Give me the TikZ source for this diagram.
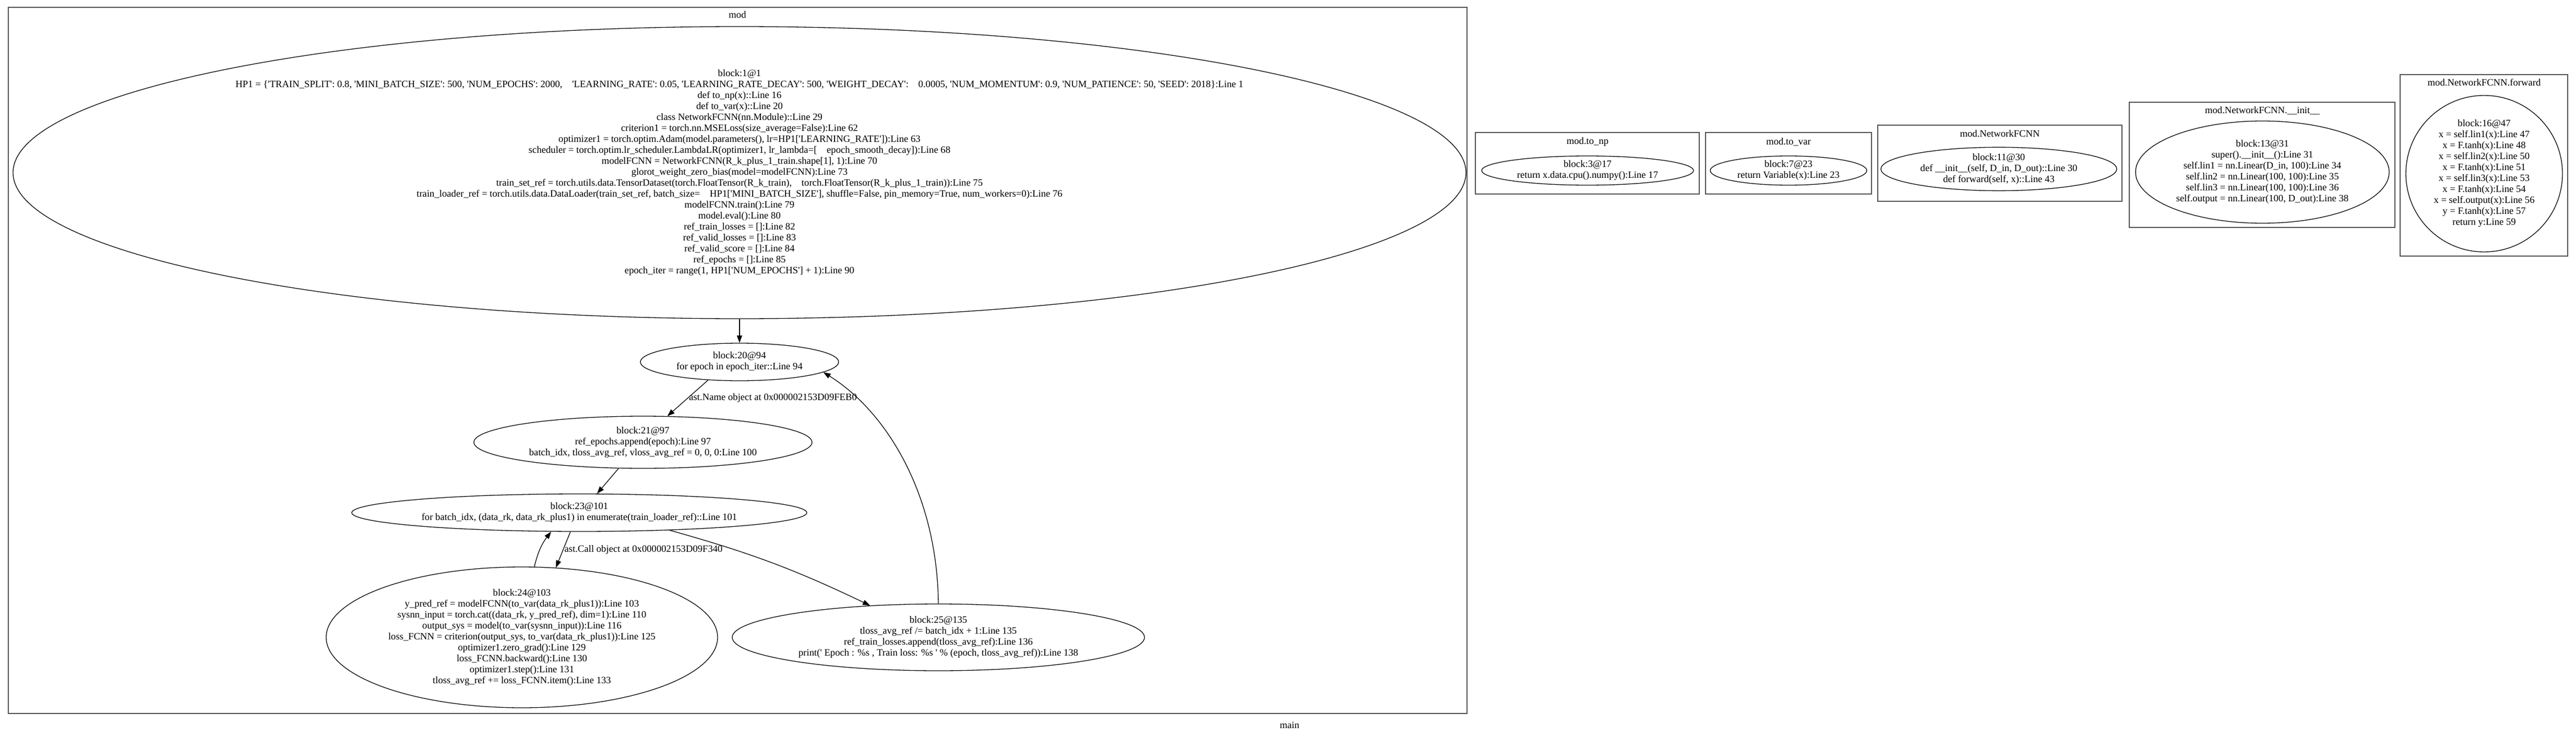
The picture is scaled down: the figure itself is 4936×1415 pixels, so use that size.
\documentclass[tikz,border=0pt]{standalone}
\usepackage{fontspec}
\setmainfont{Liberation Serif}[Ligatures=TeXOff]
\usetikzlibrary{shapes.geometric,arrows.meta}
\definecolor{clusterline}{RGB}{80,80,80}
\newcommand{\gvfont}{\fontsize{18.67}{21}\selectfont}
\tikzset{
	block/.style={ellipse, draw, line width=1.3pt, inner sep=0pt, align=center, font=\gvfont},
	cluster/.style={draw=clusterline, line width=2pt},
	title/.style={font=\gvfont, inner sep=0pt},
	flow/.style={line width=1.3pt, -{Triangle[length=14pt,width=10pt]}},
	flowlabel/.style={font=\gvfont, inner sep=2pt}
}
\begin{document}
\begin{tikzpicture}[x=1pt,y=-1pt]
		\useasboundingbox (0,0) rectangle (4936,1415);
		% cluster mod
		\draw[cluster] (16,14) rectangle (2811,1368);
		\node[title] (modT) at (1413,28) {mod};
		\node[block, inner ysep=-12pt, minimum width=2784pt, minimum height=560pt] (b1) at (1417,331) {block:1@1\\
			HP1 = \{'TRAIN\_SPLIT': 0.8, 'MINI\_BATCH\_SIZE': 500, 'NUM\_EPOCHS': 2000,\quad 'LEARNING\_RATE': 0.05, 'LEARNING\_RATE\_DECAY': 500, 'WEIGHT\_DECAY':\quad 0.0005, 'NUM\_MOMENTUM': 0.9, 'NUM\_PATIENCE': 50, 'SEED': 2018\}:Line 1\\
			def to\_np(x)::Line 16\\
			def to\_var(x)::Line 20\\
			class NetworkFCNN(nn.Module)::Line 29\\
			criterion1 = torch.nn.MSELoss(size\_average=False):Line 62\\
			optimizer1 = torch.optim.Adam(model.parameters(), lr=HP1['LEARNING\_RATE']):Line 63\\
			scheduler = torch.optim.lr\_scheduler.LambdaLR(optimizer1, lr\_lambda=[\quad epoch\_smooth\_decay]):Line 68\\
			modelFCNN = NetworkFCNN(R\_k\_plus\_1\_train.shape[1], 1):Line 70\\
			glorot\_weight\_zero\_bias(model=modelFCNN):Line 73\\
			train\_set\_ref = torch.utils.data.TensorDataset(torch.FloatTensor(R\_k\_train),\quad torch.FloatTensor(R\_k\_plus\_1\_train)):Line 75\\
			train\_loader\_ref = torch.utils.data.DataLoader(train\_set\_ref, batch\_size=\quad HP1['MINI\_BATCH\_SIZE'], shuffle=False, pin\_memory=True, num\_workers=0):Line 76\\
			modelFCNN.train():Line 79\\
			model.eval():Line 80\\
			ref\_train\_losses = []:Line 82\\
			ref\_valid\_losses = []:Line 83\\
			ref\_valid\_score = []:Line 84\\
			ref\_epochs = []:Line 85\\
			epoch\_iter = range(1, HP1['NUM\_EPOCHS'] + 1):Line 90};
		\node[block, minimum width=380pt, minimum height=72pt] (b20) at (1417,694) {block:20@94\\for epoch in epoch\_iter::Line 94};
		\node[block, minimum width=648pt, minimum height=100pt] (b21) at (1232,848) {block:21@97\\ref\_epochs.append(epoch):Line 97\\batch\_idx, tloss\_avg\_ref, vloss\_avg\_ref = 0, 0, 0:Line 100};
		\node[block, minimum width=872pt, minimum height=72pt] (b23) at (1110,983) {block:23@101\\for batch\_idx, (data\_rk, data\_rk\_plus1) in enumerate(train\_loader\_ref)::Line 101};
		\node[block, minimum width=750pt, minimum height=270pt] (b24) at (1000,1222) {block:24@103\\
			y\_pred\_ref = modelFCNN(to\_var(data\_rk\_plus1)):Line 103\\
			sysnn\_input = torch.cat((data\_rk, y\_pred\_ref), dim=1):Line 110\\
			output\_sys = model(to\_var(sysnn\_input)):Line 116\\
			loss\_FCNN = criterion(output\_sys, to\_var(data\_rk\_plus1)):Line 125\\
			optimizer1.zero\_grad():Line 129\\
			loss\_FCNN.backward():Line 130\\
			optimizer1.step():Line 131\\
			tloss\_avg\_ref += loss\_FCNN.item():Line 133};
		\node[block, minimum width=790pt, minimum height=128pt] (b25) at (1798,1222) {block:25@135\\
			tloss\_avg\_ref /= batch\_idx + 1:Line 135\\
			ref\_train\_losses.append(tloss\_avg\_ref):Line 136\\
			print(' Epoch : \%s , Train loss: \%s ' \% (epoch, tloss\_avg\_ref)):Line 138};
		\draw[flow] (b1.south) -- (b20.north);
		\draw[flow] (b20.210) -- node[flowlabel, right] {ast.Name object at 0x000002153D09FEB0} (b21.47);
		\draw[flow] (b21.227) -- (b23.47);
		\draw[flow] (b23.245) -- node[flowlabel, right] {ast.Call object at 0x000002153D09F340} (b24.64);
		\draw[flow] (b24.80) to[bend left=12] (b23.214);
		\draw[flow] (b23.349) to[bend left=5] (b25.155);
		\draw[flow] (b25.north) .. controls (1796,950) and (1700,790) .. (b20.353);
		\node[title] (mainT) at (2471,1390) {main};
		% small clusters
		\draw[cluster] (2827,254) rectangle (3256,372);
		\node[title] (npT) at (3042,272) {mod.to\_np};
		\node[block, minimum width=406pt, minimum height=56pt] (b3) at (3042,327) {block:3@17\\return x.data.cpu().numpy():Line 17};
		\draw[cluster] (3268,254) rectangle (3586,372);
		\node[title] (varT) at (3427,272) {mod.to\_var};
		\node[block, minimum width=300pt, minimum height=56pt] (b7) at (3427,327) {block:7@23\\return Variable(x):Line 23};
		\draw[cluster] (3598,240) rectangle (4066,386);
		\node[title] (netT) at (3832,256) {mod.NetworkFCNN};
		\node[block, minimum width=452pt, minimum height=82pt] (b11) at (3830,324) {block:11@30\\def \_\_init\_\_(self, D\_in, D\_out)::Line 30\\def forward(self, x)::Line 43};
		\draw[cluster] (4080,196) rectangle (4589,436);
		\node[title] (initT) at (4335,212) {mod.NetworkFCNN.\_\_init\_\_};
		\node[block, minimum width=486pt, minimum height=196pt] (b13) at (4335,330) {block:13@31\\
			super().\_\_init\_\_():Line 31\\
			self.lin1 = nn.Linear(D\_in, 100):Line 34\\
			self.lin2 = nn.Linear(100, 100):Line 35\\
			self.lin3 = nn.Linear(100, 100):Line 36\\
			self.output = nn.Linear(100, D\_out):Line 38};
		\draw[cluster] (4599,143) rectangle (4920,491);
		\node[title] (fwdT) at (4760,158) {mod.NetworkFCNN.forward};
		\node[block, circle, minimum size=300pt] (b16) at (4760,333) {block:16@47\\
			x = self.lin1(x):Line 47\\
			x = F.tanh(x):Line 48\\
			x = self.lin2(x):Line 50\\
			x = F.tanh(x):Line 51\\
			x = self.lin3(x):Line 53\\
			x = F.tanh(x):Line 54\\
			x = self.output(x):Line 56\\
			y = F.tanh(x):Line 57\\
			return y:Line 59};
	\end{tikzpicture}
\end{document}
